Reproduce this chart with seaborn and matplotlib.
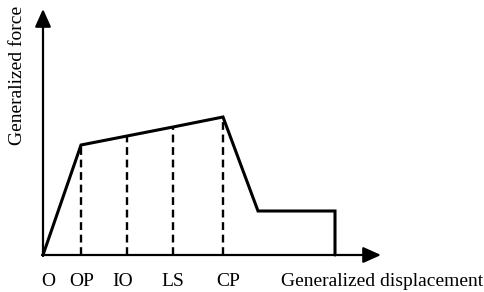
import matplotlib
matplotlib.use("Agg")
import matplotlib.pyplot as plt
import seaborn as sns
import pandas as pd

# Data (arbitrary units)
curve_disp = [0, 38, 84, 130, 180, 215, 292, 292]
curve_force = [0, 110, 119, 128, 138, 44, 44, 0]
level_names = ["OP", "IO", "LS", "CP"]
level_disp = [38, 84, 130, 180]
level_force = [110, 119, 128, 138]
x_label = "Generalized displacement"
y_label = "Generalized force"

sns.set_theme(style="white")
plt.rcParams["font.family"] = ["Liberation Serif", "DejaVu Serif"]

fig = plt.figure(figsize=(4.84, 2.92), dpi=100)
ax = fig.add_axes([0, 0, 1, 1])
ax.set_xlim(-43, 441)
ax.set_ylim(-37, 255)
ax.axis("off")

df = pd.DataFrame({"d": curve_disp, "f": curve_force})
sns.lineplot(data=df, x="d", y="f", sort=False, estimator=None, color="black",
             lw=2.2, ax=ax, solid_joinstyle="miter")

for d, f in zip(level_disp, level_force):
    seg = pd.DataFrame({"d": [d, d], "f": [0, f]})
    sns.lineplot(data=seg, x="d", y="f", estimator=None, color="black", lw=1.7,
                 ax=ax, linestyle=(0, (3.3, 2.0)))

# axes arrows
arrow = dict(arrowstyle="-|>,head_length=0.6,head_width=0.27", lw=1.6, color="black",
             shrinkA=0, shrinkB=0, mutation_scale=18)
ax.annotate("", xy=(0, 246), xytext=(0, -1), arrowprops=arrow)
ax.annotate("", xy=(338, 0), xytext=(-1, 0), arrowprops=arrow)

fs = 14
ax.text(5, -26, "O", ha="center", va="center", fontsize=fs, color="black")
offsets = [1, -4, 0, 5]
for name, d, o in zip(level_names, level_disp, offsets):
    ax.text(d + o, -26, name, ha="center", va="center", fontsize=fs, color="black")
ax.text(339, -26, x_label, ha="center", va="center", fontsize=fs, color="black")
ax.text(-26, 180, y_label, ha="center", va="center", rotation=90, fontsize=fs,
        color="black")

fig.savefig("out.png", dpi=100)
